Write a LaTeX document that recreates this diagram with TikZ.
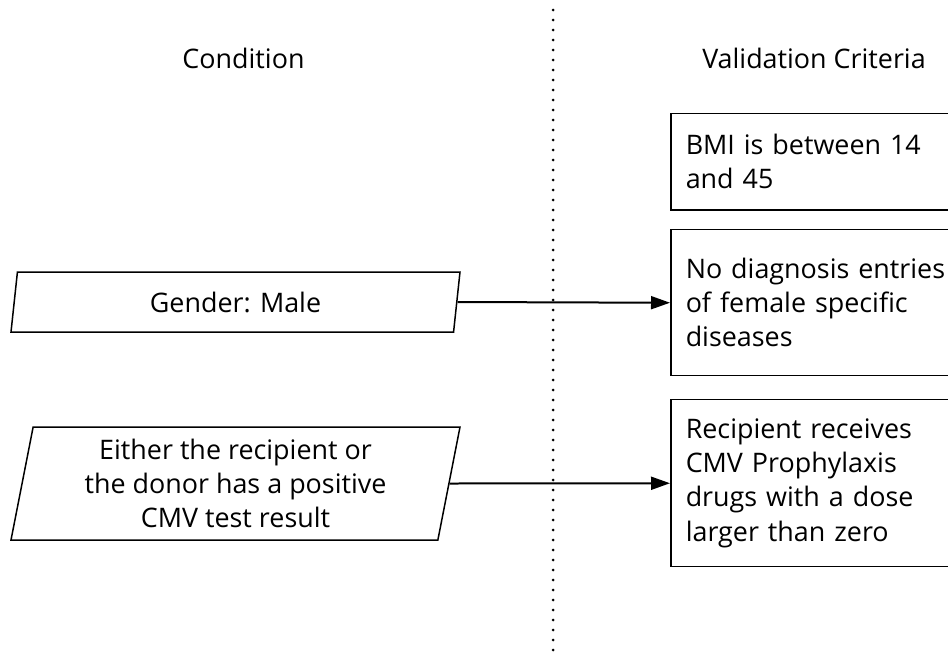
\documentclass[tikz,border=0pt]{standalone}
\usepackage{fontspec}
\setmainfont{Open Sans}
\usetikzlibrary{positioning,arrows.meta,shapes.geometric}

\begin{document}
\begin{tikzpicture}[
  font=\fontsize{15.3}{19.4}\selectfont,
  head/.style={anchor=center},
  cond/.style={draw, line width=0.85pt, trapezium, trapezium left angle=77,
               trapezium right angle=103, trapezium stretches body,
               minimum width=8.98cm, align=center, inner sep=2pt},
  crit/.style={draw, line width=0.85pt, text width=5.6cm, inner xsep=0.3cm,
               align=left},
  fl/.style={-{Triangle[length=3.8mm,width=2.6mm]}, line width=0.04cm}
]
\clip (0,0) rectangle (18.96,-13.04);

% column titles and divider
\node[head] (tcond) at (4.87,-1.16) {Condition};
\node[head] (tcrit) at (16.28,-1.16) {Validation Criteria};
\coordinate (dtop) at (11.06,-0.2);
\coordinate (dbot) at (11.06,-13.1);
\draw[line width=0.06cm, line cap=round, dash pattern=on 0pt off 0.2cm] (dtop) -- (dbot);

% conditions
\node[cond, minimum height=1.2cm] (gender) at (4.71,-6.04) {Gender: Male};
\node[cond, minimum height=2.26cm] (cmv) at (4.71,-9.67)
  {Either the recipient or\\the donor has a positive\\CMV test result};

% criteria
\node[crit, anchor=north west, minimum height=1.92cm] (bmi) at (13.4,-2.26)
  {BMI is between 14\\and 45};
\node[crit, below=0.37cm of bmi.south west, anchor=north west, minimum height=2.92cm] (diag)
  {No diagnosis entries\\of female specific\\diseases};
\node[crit, below=0.45cm of diag.south west, anchor=north west, minimum height=3.34cm] (proph)
  {Recipient receives\\CMV Prophylaxis\\drugs with a dose\\larger than zero};

\draw[fl] (gender.east) -- (diag.west);
\draw[fl] (cmv.east) -- (proph.west);
\end{tikzpicture}
\end{document}
